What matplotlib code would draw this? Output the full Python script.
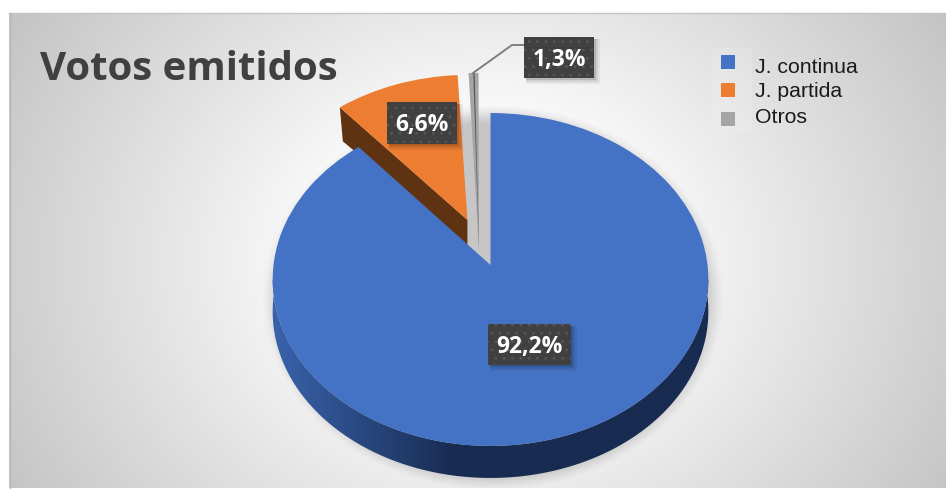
import numpy as np
import matplotlib
matplotlib.use("Agg")
import matplotlib.pyplot as plt
from matplotlib.patches import Wedge, Rectangle, Polygon
from matplotlib.transforms import Transform

# ---- data ----
names = ["J. continua", "J. partida", "Otros"]
shares = [92.2, 6.6, 1.3]
share_labels = ["92,2%", "6,6%", "1,3%"]
colors = ["#4472c4", "#ed7d31", "#a5a5a5"]
# apparent sweep of each slice once the 3-D perspective of the picture is applied
drawn_sweep = [319.6, 37.0, 2.4]


class Perspective(Transform):
    """Tilted-disc projection: unit disc -> pixel coordinates of the figure."""
    input_dims = output_dims = 2
    has_inverse = False
    X0, Y0, A, B, K = 490.5, 265.0, 217.0, 165.2, 0.087

    def transform_non_affine(self, values):
        v = np.asarray(values, float)
        w = 1 + self.K * v[:, 1]
        return np.column_stack([self.X0 + self.A * v[:, 0] / w,
                                self.Y0 - self.B * v[:, 1] / w])


plt.rcParams["hatch.linewidth"] = 0.8
proj = Perspective()
fig = plt.figure(figsize=(9.46, 4.91), dpi=100, facecolor="white")
ax = fig.add_axes([0, 0, 1, 1])
ax.set_axis_off()
W, H = 946, 491
to_px = proj + ax.transData

# ---- background ----
L, R, T, Bt = 9, 946, 13, 488
xx, yy = np.meshgrid(np.linspace(L, R, 470), np.linspace(T, Bt, 240))
d = np.hypot((xx - 480) / 470, (yy - 260) / 400)
g = np.clip(0.985 - 0.265 * np.clip(d - 0.35, 0, None), 0, 1)
ax.imshow(np.dstack([g, g, g]), extent=(L, R, Bt, T), aspect="auto", zorder=0)
ax.plot([L, R], [T, T], color="#c4c4c4", lw=1, zorder=0.5)
ax.plot([L + 0.5, L + 0.5], [T, Bt], color="#b8b8b8", lw=1, zorder=0.5)

# ---- legend backdrop ----
ax.add_patch(Rectangle((712, 48), 40, 85, fc="white", alpha=0.12, ec="none", zorder=1))

# ---- pie shadow ----
sx, sy = np.meshgrid(np.arange(230, 770), np.arange(80, 488))
e = np.hypot((sx - 492) / 233, (sy - 297) / 195)
a = np.clip((1.0 - e) / 0.12, 0, 1)
a = a * a * (3 - 2 * a) * 0.21
shadow = np.zeros(a.shape + (4,))
shadow[..., 3] = a
ax.imshow(shadow, extent=(230, 770, 488, 80), aspect="auto", zorder=1.5)

# ---- slice geometry ----
blue_span = (90 + 360 - drawn_sweep[0], 90 + 360)
orange_span = (90 + 3.4, 90 + 3.4 + drawn_sweep[1])
gray_span = (90 + 0.4, 90 + 0.4 + drawn_sweep[2])
orange_c, gray_c = (-0.109, 0.279), (-0.053, 0.079)


def rim(center, r, deg):
    t = np.radians(np.atleast_1d(deg))
    return proj.transform(np.column_stack([center[0] + r * np.cos(t),
                                           center[1] + r * np.sin(t)]))


# gray slice
ax.add_patch(Wedge(gray_c, 1.215, *gray_span, fc=colors[2], ec="none",
                   transform=to_px, zorder=3))
ax.add_patch(Wedge(gray_c, 1.215, gray_span[0] + 0.95, gray_span[0] + 1.25, fc="#4f4f4f",
                   ec="none", transform=to_px, zorder=3.1))

# orange slice: cut face and top
tip = rim(orange_c, 1.0, orange_span[1])[0]
apex = rim(orange_c, 0.0, 0)[0]
ax.add_patch(Polygon([tip, apex, apex + (0, 25), tip + (3, 34)], closed=True,
                     fc="#5f3312", ec="none", zorder=4))
ax.add_patch(Wedge(orange_c, 1.0, *orange_span, fc=colors[1], ec="none",
                   transform=to_px, zorder=5))

# blue slice: rim with horizontal gradient, then top
deg = np.linspace(170, 370, 200)
upper = rim((0, 0), 1.0, deg)
lower = upper + (0, 32)
side = Polygon(np.vstack([upper, lower[::-1]]), closed=True, fc="none", ec="none",
               transform=ax.transData, zorder=6)
ax.add_patch(side)
gx = np.linspace(0, 1, 440)
c0, c1 = np.array([0x3a, 0x64, 0xae]) / 255, np.array([0x18, 0x2b, 0x50]) / 255
f = np.clip(gx / 0.42, 0, 1)[None, :, None]
img = ax.imshow(c0 * (1 - f) + c1 * f, extent=(270, 712, 490, 280), aspect="auto", zorder=6)
img.set_clip_path(side)
ax.add_patch(Wedge((0, 0), 1.0, *blue_span, fc=colors[0], ec="none",
                   transform=to_px, zorder=7))

# ---- leader line ----
ax.plot([473, 512, 524], [73, 45, 45], color="#7f7f7f", lw=1.4, zorder=8,
        solid_joinstyle="miter")

# ---- data labels ----
boxes = [(488, 324, 83, 41), (387, 102, 70, 42), (524, 37, 70, 41)]
for txt, (bx, by, bw, bh) in zip(share_labels, boxes):
    for k, al in ((6, .05), (4, .08), (2, .12)):
        ax.add_patch(Rectangle((bx + 2, by + 2), bw + k - 2, bh + k - 2, fc="black", alpha=al,
                               ec="none", zorder=9))
    ax.add_patch(Rectangle((bx, by), bw, bh, fc="#404040", ec="#565656", lw=0,
                           hatch="..", zorder=10))
    ax.text(bx + bw / 2, by + bh / 2 + 2, txt, color="white", fontsize=16.5, fontweight="bold",
            family="Open Sans", ha="center", va="center", zorder=11)

# ---- title ----
ax.text(40, 69, "Votos emitidos", color="#404040", fontsize=29, fontweight="bold",
        family="Open Sans", ha="left", va="center", zorder=12)

# ---- legend ----
for n, c, ty, my in zip(names, colors, (67, 91, 117), (55, 83, 112)):
    ax.add_patch(Rectangle((721, my), 14, 14, fc=c, ec="none", zorder=12))
    ax.text(755, ty, n, color="#1a1a1a", fontsize=15.3, family="Liberation Sans",
            ha="left", va="center", zorder=12)

ax.set_xlim(0, W)
ax.set_ylim(H, 0)
fig.savefig("out.png", dpi=100)
